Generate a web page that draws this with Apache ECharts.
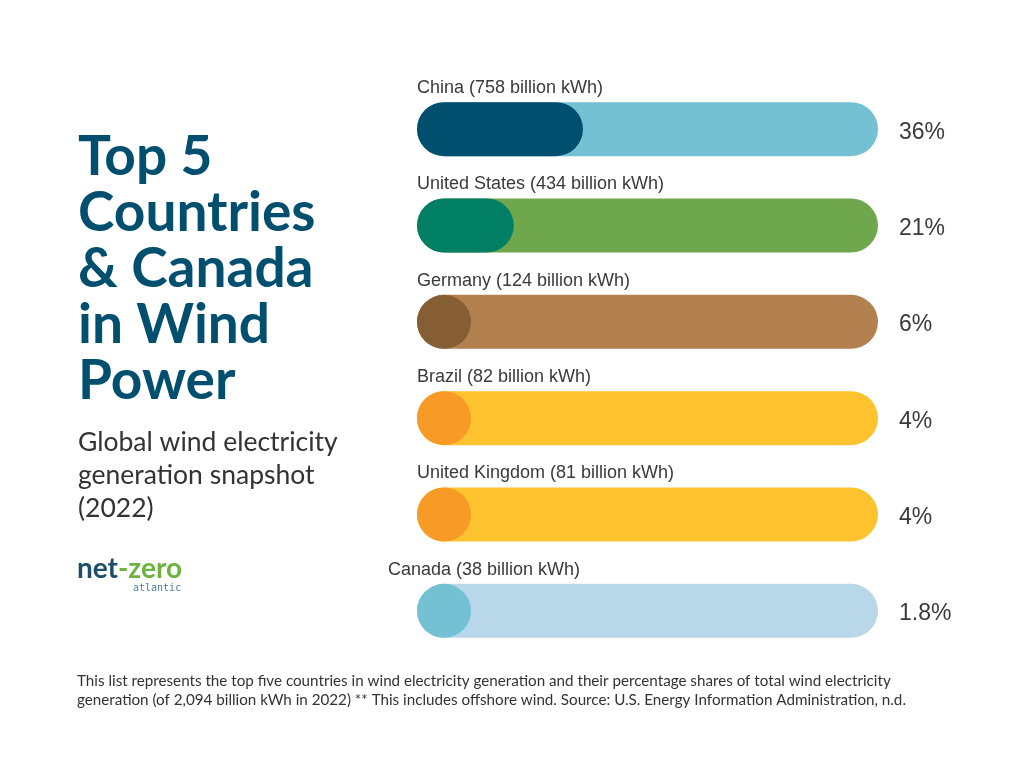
<!DOCTYPE html>
<html>
<head>
<meta charset="utf-8">
<script src="https://cdn.jsdelivr.net/npm/echarts@6/dist/echarts.min.js"></script>
<style>html,body{margin:0;padding:0;background:#fff;}#c{width:1024px;height:768px;}</style>
</head>
<body>
<div id="c"></div>
<script>
const countries = ['China', 'United States', 'Germany', 'Brazil', 'United Kingdom', 'Canada'];
const generationTWh = [758, 434, 124, 82, 81, 38];
const sharePct = [36, 21, 6, 4, 4, 1.8];
const shareLabels = ['36%', '21%', '6%', '4%', '4%', '1.8%'];
const trackColors = ['#74c1d4', '#6fa84c', '#b38050', '#fec32e', '#fec32e', '#b8d7e8'];
const fillColors = ['#004f6e', '#007f64', '#855e33', '#f79a26', '#f79a26', '#74c1d4'];
const labelShift = [0, 0, 0, 0, 0, -29];
const axisMax = 100;

const chart = echarts.init(document.getElementById('c'), null, {renderer: 'canvas'});
const barH = 54;

const option = {
  backgroundColor: '#ffffff',
  animation: false,
  grid: {left: 417, width: 461, top: 81, height: 578},
  xAxis: {type: 'value', min: 0, max: axisMax, show: false},
  yAxis: {type: 'category', data: countries, inverse: true, show: false},
  series: [
    {
      type: 'bar',
      barWidth: barH,
      silent: true,
      z: 1,
      data: countries.map((c, i) => ({
        value: axisMax,
        itemStyle: {color: trackColors[i], borderRadius: barH / 2}
      })),
      label: {
        show: true,
        position: 'right',
        distance: 21,
        offset: [0, 3],
        formatter: p => shareLabels[p.dataIndex],
        fontFamily: 'Liberation Sans, Arial, sans-serif',
        fontSize: 23,
        color: '#3a3a3a'
      }
    },
    {
      type: 'custom',
      silent: true,
      z: 5,
      data: sharePct.map((v, i) => [v, i]),
      encode: {x: 0, y: 1},
      renderItem: function (params, api) {
        const i = params.dataIndex;
        const start = api.coord([0, i]);
        const end = api.coord([api.value(0), i]);
        const h = barH;
        const w = Math.max(end[0] - start[0], h);
        const y = start[1] - h / 2;
        return {
          type: 'group',
          children: [
            {
              type: 'rect',
              z2: 10,
              shape: {x: start[0], y: y, width: w, height: h, r: h / 2},
              style: {fill: fillColors[i]}
            },
            {
              type: 'text',
              z2: 10,
              style: {
                x: start[0] + labelShift[i],
                y: y - 14,
                text: countries[i] + ' (' + generationTWh[i] + ' billion kWh)',
                fontFamily: 'Liberation Sans, Arial, sans-serif',
                fontSize: 18,
                fill: '#3a3a3a',
                verticalAlign: 'middle',
                align: 'left'
              }
            }
          ]
        };
      }
    }
  ],
  graphic: [
    {
      type: 'text', left: 78, top: 129,
      style: {
        text: 'Top 5\nCountries\n& Canada\nin Wind\nPower',
        fontFamily: 'Lato, sans-serif', fontWeight: 'bold', fontSize: 55, lineHeight: 56,
        fill: '#004f6e'
      }
    },
    {
      type: 'text', left: 78, top: 426,
      style: {
        text: 'Global wind electricity\ngeneration snapshot\n(2022)',
        fontFamily: 'Lato, sans-serif', fontSize: 26.5, lineHeight: 33,
        fill: '#333333'
      }
    },
    {
      type: 'text', left: 77, top: 555,
      style: {
        text: '{a|net}{b|-zero}',
        rich: {
          a: {fontFamily: 'Lato, sans-serif', fontWeight: 'bold', fontSize: 28, fill: '#1d4f6b', color: '#1d4f6b'},
          b: {fontFamily: 'Lato, sans-serif', fontWeight: 'bold', fontSize: 28, fill: '#6db33f', color: '#6db33f'}
        }
      }
    },
    {
      type: 'text', left: 133, top: 583,
      style: {
        text: 'atlantic',
        fontFamily: 'DejaVu Sans Mono, monospace', fontSize: 10, letterSpacing: 0.5,
        fill: '#4f7d99'
      }
    },
    {
      type: 'text', left: 77, top: 672,
      style: {
        text: 'This list represents the top five countries in wind electricity generation and their percentage shares of total wind electricity\ngeneration (of 2,094 billion kWh in 2022) ** This includes offshore wind. Source: U.S. Energy Information Administration, n.d.',
        fontFamily: 'Lato, sans-serif', fontSize: 15.2, lineHeight: 19,
        fill: '#333333'
      }
    }
  ]
};
chart.setOption(option);
</script>
</body>
</html>
